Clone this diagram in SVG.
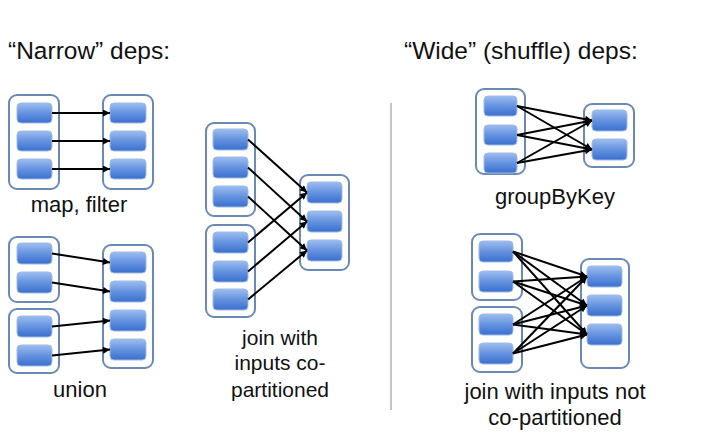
<svg xmlns="http://www.w3.org/2000/svg" width="701" height="433" viewBox="0 0 701 433">
<style>
.c{fill:#fff;stroke:#6a8ab5;stroke-width:2}
.p{fill:url(#g);stroke:#9dbbe6;stroke-width:1}
.a{stroke:#000;stroke-width:2;fill:none;marker-end:url(#ah)}
.t{font-family:"Liberation Sans",Arial,sans-serif;fill:#111}
.lbl{font-size:22px;text-anchor:middle}
.ttl{font-size:24.5px}
</style>
<defs>
<linearGradient id="g" x1="0" y1="0" x2="0" y2="1">
<stop offset="0" stop-color="#9dbdf0"/>
<stop offset="0.5" stop-color="#6593e0"/>
<stop offset="1" stop-color="#3a6fcd"/>
</linearGradient>
<marker id="ah" viewBox="0 0 10 10" refX="10" refY="5" markerWidth="8" markerHeight="7" markerUnits="userSpaceOnUse" orient="auto">
<path d="M0,0 L10,5 L0,10 z" fill="#000"/>
</marker>
</defs>
<rect width="701" height="433" fill="#fff"/>
<text class="t ttl" x="8" y="59">“Narrow” deps:</text>
<text class="t ttl" x="404" y="59">“Wide” (shuffle) deps:</text>
<line x1="391" y1="103" x2="391" y2="410" stroke="#c4c4c4" stroke-width="2"/>

<g id="mapfilter">
<rect class="c" x="9" y="95" width="50" height="94" rx="8"/>
<rect class="p" x="17" y="103" width="35" height="20" rx="4"/>
<rect class="p" x="17" y="131" width="35" height="20" rx="4"/>
<rect class="p" x="17" y="159" width="35" height="20" rx="4"/>
<rect class="c" x="103" y="95" width="50" height="94" rx="8"/>
<rect class="p" x="110" y="103" width="36" height="20" rx="4"/>
<rect class="p" x="110" y="131" width="36" height="20" rx="4"/>
<rect class="p" x="110" y="159" width="36" height="20" rx="4"/>
<text class="t lbl" x="79" y="212">map, filter</text>
</g>

<g id="union">
<rect class="c" x="9" y="237" width="50" height="65" rx="8"/>
<rect class="p" x="17" y="243" width="35" height="21" rx="4"/>
<rect class="p" x="17" y="272" width="35" height="21" rx="4"/>
<rect class="c" x="9" y="309" width="50" height="64" rx="8"/>
<rect class="p" x="17" y="316" width="35" height="21" rx="4"/>
<rect class="p" x="17" y="345" width="35" height="21" rx="4"/>
<rect class="c" x="103" y="245" width="50" height="123" rx="8"/>
<rect class="p" x="110" y="252" width="36" height="21" rx="4"/>
<rect class="p" x="110" y="281" width="36" height="21" rx="4"/>
<rect class="p" x="110" y="310" width="36" height="21" rx="4"/>
<rect class="p" x="110" y="339" width="36" height="21" rx="4"/>
<text class="t lbl" x="80" y="397">union</text>
</g>

<g id="join-copart">
<rect class="c" x="206" y="123" width="49" height="93" rx="8"/>
<rect class="p" x="213" y="129" width="35" height="21" rx="4"/>
<rect class="p" x="213" y="157" width="35" height="21" rx="4"/>
<rect class="p" x="213" y="186" width="35" height="21" rx="4"/>
<rect class="c" x="206" y="225" width="49" height="92" rx="8"/>
<rect class="p" x="213" y="232" width="35" height="21" rx="4"/>
<rect class="p" x="213" y="261" width="35" height="21" rx="4"/>
<rect class="p" x="213" y="289" width="35" height="21" rx="4"/>
<rect class="c" x="300" y="175" width="49" height="95" rx="8"/>
<rect class="p" x="307" y="182" width="35" height="21" rx="4"/>
<rect class="p" x="307" y="211" width="35" height="21" rx="4"/>
<rect class="p" x="307" y="240" width="35" height="21" rx="4"/>
<text class="t lbl" x="280" y="345" style="font-size:21px">join with</text>
<text class="t lbl" x="280" y="370" style="font-size:21px">inputs co-</text>
<text class="t lbl" x="280" y="397" style="font-size:21px">partitioned</text>
</g>

<g id="groupbykey">
<rect class="c" x="476" y="89" width="49" height="85" rx="8"/>
<rect class="p" x="484" y="96" width="33" height="20" rx="4"/>
<rect class="p" x="484" y="125" width="33" height="20" rx="4"/>
<rect class="p" x="484" y="153" width="33" height="20" rx="4"/>
<rect class="c" x="584" y="104" width="50" height="63" rx="8"/>
<rect class="p" x="592" y="110" width="35" height="21" rx="4"/>
<rect class="p" x="592" y="139" width="35" height="21" rx="4"/>
<text class="t lbl" x="555" y="204">groupByKey</text>
</g>

<g id="join-notcopart">
<rect class="c" x="472" y="234" width="50" height="66" rx="8"/>
<rect class="p" x="479" y="241" width="34" height="21" rx="4"/>
<rect class="p" x="479" y="271" width="34" height="21" rx="4"/>
<rect class="c" x="472" y="307" width="50" height="65" rx="8"/>
<rect class="p" x="479" y="314" width="34" height="21" rx="4"/>
<rect class="p" x="479" y="343" width="34" height="21" rx="4"/>
<rect class="c" x="581" y="259" width="48" height="109" rx="8"/>
<rect class="p" x="587" y="266" width="35" height="21" rx="4"/>
<rect class="p" x="587" y="295" width="35" height="21" rx="4"/>
<rect class="p" x="587" y="324" width="35" height="21" rx="4"/>
<text class="t lbl" x="555" y="399">join with inputs not</text>
<text class="t lbl" x="555" y="425">co-partitioned</text>
</g>

<g id="connectors">
<line class="a" x1="52" y1="113" x2="110" y2="113"/>
<line class="a" x1="52" y1="141" x2="110" y2="141"/>
<line class="a" x1="52" y1="169" x2="110" y2="169"/>

<line class="a" x1="52" y1="253.5" x2="110" y2="262.5"/>
<line class="a" x1="52" y1="282.5" x2="110" y2="291.5"/>
<line class="a" x1="52" y1="326.5" x2="110" y2="320.5"/>
<line class="a" x1="52" y1="355.5" x2="110" y2="349.5"/>

<line class="a" x1="248" y1="139.5" x2="307" y2="192.5"/>
<line class="a" x1="248" y1="167.5" x2="307" y2="221.5"/>
<line class="a" x1="248" y1="196.5" x2="307" y2="250.5"/>
<line class="a" x1="248" y1="242.5" x2="307" y2="192.5"/>
<line class="a" x1="248" y1="271.5" x2="307" y2="221.5"/>
<line class="a" x1="248" y1="299.5" x2="307" y2="250.5"/>

<line class="a" x1="517" y1="106" x2="592" y2="120.5"/>
<line class="a" x1="517" y1="106" x2="592" y2="149.5"/>
<line class="a" x1="517" y1="135" x2="592" y2="120.5"/>
<line class="a" x1="517" y1="135" x2="592" y2="149.5"/>
<line class="a" x1="517" y1="163" x2="592" y2="120.5"/>
<line class="a" x1="517" y1="163" x2="592" y2="149.5"/>

<line class="a" x1="513" y1="251.5" x2="587" y2="276.5"/>
<line class="a" x1="513" y1="251.5" x2="587" y2="305.5"/>
<line class="a" x1="513" y1="251.5" x2="587" y2="334.5"/>
<line class="a" x1="513" y1="281.5" x2="587" y2="276.5"/>
<line class="a" x1="513" y1="281.5" x2="587" y2="305.5"/>
<line class="a" x1="513" y1="281.5" x2="587" y2="334.5"/>
<line class="a" x1="513" y1="324.5" x2="587" y2="276.5"/>
<line class="a" x1="513" y1="324.5" x2="587" y2="305.5"/>
<line class="a" x1="513" y1="324.5" x2="587" y2="334.5"/>
<line class="a" x1="513" y1="353.5" x2="587" y2="276.5"/>
<line class="a" x1="513" y1="353.5" x2="587" y2="305.5"/>
<line class="a" x1="513" y1="353.5" x2="587" y2="334.5"/>
</g>
</svg>
